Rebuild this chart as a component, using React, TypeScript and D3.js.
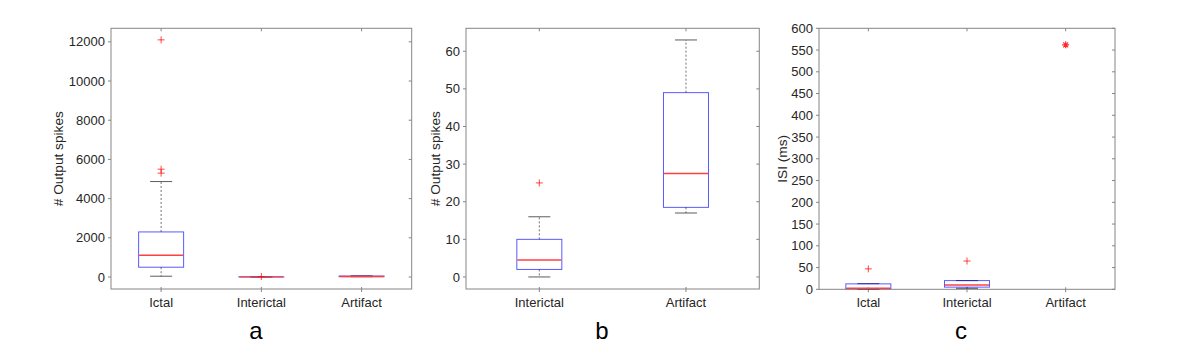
import React, { useEffect, useRef } from 'react';
import * as d3 from 'd3';

// box stats: [lower whisker, q1, median, q3, upper whisker]
const spikeCategoriesA = ['Ictal', 'Interictal', 'Artifact'];
const ictalSpikes = [40, 500, 1110, 2300, 4870];
const ictalSpikeOutliers = [5300, 5500, 12100];
const interictalSpikes = [0, 2, 4.5, 10, 16];
const interictalSpikeOutliers = [25];
const artifactSpikes = [17, 18.5, 27.5, 49, 63];
const artifactSpikeOutliers: number[] = [];

const spikeCategoriesB = ['Interictal', 'Artifact'];

const isiCategories = ['Ictal', 'Interictal', 'Artifact'];
const ictalIsi = [0.5, 1.5, 2.5, 12.5, 13];
const ictalIsiOutliers = [47];
const interictalIsi = [2.3, 5, 10, 20, 20];
const interictalIsiOutliers = [65];
const artifactIsi = [562, 562, 562, 562, 562];
const artifactIsiOutliers: number[] = [];

const ticksA = [0, 2000, 4000, 6000, 8000, 10000, 12000];
const ticksB = [0, 10, 20, 30, 40, 50, 60];
const ticksC = d3.range(0, 601, 50);

const FONT = '"Liberation Sans", Arial, Helvetica, sans-serif';

type Group = { stats: number[]; outliers: number[]; star?: boolean };

function drawPanel(svg: any, opt: any) {
  const { left, right, top, bottom, domain, ticks, cats, groups, ylabel, ylabelX, letter, letterX } = opt;
  const x = d3.scaleLinear().domain([0.5, cats.length + 0.5]).range([left, right]);
  const y = d3.scaleLinear().domain(domain).range([bottom, top]);
  const g = svg.append('g');
  const axisColor = '#858585';
  const textColor = '#262626';

  // frame
  g.append('rect')
    .attr('x', left).attr('y', top)
    .attr('width', right - left).attr('height', bottom - top)
    .attr('fill', 'none').attr('stroke', axisColor).attr('stroke-width', 1);

  // y ticks
  ticks.forEach((t: number) => {
    const yy = y(t);
    g.append('line').attr('x1', left - 3).attr('x2', left).attr('y1', yy).attr('y2', yy)
      .attr('stroke', axisColor);
    g.append('line').attr('x1', right - 3).attr('x2', right).attr('y1', yy).attr('y2', yy)
      .attr('stroke', axisColor);
    g.append('text').attr('x', left - 6).attr('y', yy).attr('dy', '0.35em')
      .attr('text-anchor', 'end').attr('font-size', 13).attr('fill', textColor)
      .attr('font-family', FONT).text(t);
  });

  // x ticks
  cats.forEach((c: string, i: number) => {
    const xx = x(i + 1);
    g.append('line').attr('x1', xx).attr('x2', xx).attr('y1', bottom - 2).attr('y2', bottom + 3)
      .attr('stroke', axisColor);
    g.append('line').attr('x1', xx).attr('x2', xx).attr('y1', top).attr('y2', top + 3)
      .attr('stroke', axisColor);
    g.append('text').attr('x', xx).attr('y', 307)
      .attr('text-anchor', 'middle').attr('font-size', 13).attr('fill', textColor)
      .attr('font-family', FONT).text(c);
  });

  // boxes
  const boxW = 45;
  const capW = 22;
  groups.forEach((gr: Group, i: number) => {
    const xx = x(i + 1);
    const [lo, q1, med, q3, hi] = gr.stats;
    const bg = g.append('g');
    if (gr.star) {
      // single value: MATLAB shows it as a star-like marker only
      const yy = y(med);
      const r = 3.5;
      const d = d3.range(4).map((k) => {
        const a = (k * Math.PI) / 4;
        return `M${xx - r * Math.cos(a)},${yy - r * Math.sin(a)}L${xx + r * Math.cos(a)},${yy + r * Math.sin(a)}`;
      }).join('');
      bg.append('path').attr('d', d).attr('stroke', '#ff0000').attr('stroke-width', 1.1)
        .attr('stroke-opacity', 0.85).attr('fill', 'none');
      return;
    }
    // whiskers
    bg.append('line').attr('x1', xx).attr('x2', xx).attr('y1', y(q3)).attr('y2', y(hi))
      .attr('stroke', '#333').attr('stroke-width', 0.7).attr('stroke-dasharray', '2,2');
    bg.append('line').attr('x1', xx).attr('x2', xx).attr('y1', y(q1)).attr('y2', y(lo))
      .attr('stroke', '#333').attr('stroke-width', 0.7).attr('stroke-dasharray', '2,2');
    [lo, hi].forEach((v) => {
      bg.append('line').attr('x1', xx - capW / 2).attr('x2', xx + capW / 2)
        .attr('y1', y(v)).attr('y2', y(v)).attr('stroke', '#333').attr('stroke-width', 0.8);
    });
    bg.append('rect').attr('x', xx - boxW / 2).attr('y', y(q3))
      .attr('width', boxW).attr('height', Math.max(0, y(q1) - y(q3)))
      .attr('fill', 'none').attr('stroke', '#0000ff').attr('stroke-width', 1).attr('stroke-opacity', 0.65);
    bg.append('line').attr('x1', xx - boxW / 2 + 0.5).attr('x2', xx + boxW / 2 - 0.5)
      .attr('y1', y(med)).attr('y2', y(med)).attr('stroke', '#ff4040').attr('stroke-width', 1.4);
    gr.outliers.forEach((v) => {
      const yy = y(v);
      bg.append('path').attr('d', `M${xx - 3.5},${yy}H${xx + 3.5}M${xx},${yy - 3.5}V${yy + 3.5}`)
        .attr('stroke', '#ff0000').attr('stroke-width', 0.9).attr('fill', 'none').attr('stroke-opacity', 0.8);
    });
  });

  // y label
  g.append('text')
    .attr('transform', `translate(${ylabelX},${(top + bottom) / 2}) rotate(-90)`)
    .attr('text-anchor', 'middle').attr('dy', '0.35em')
    .attr('font-size', 13.7).attr('fill', textColor).attr('font-family', FONT)
    .text(ylabel);

  // panel letter
  g.append('text').attr('x', letterX).attr('y', 339)
    .attr('text-anchor', 'middle').attr('font-size', 24).attr('fill', '#000')
    .attr('font-family', FONT).text(letter);
}

export default function App() {
  const ref = useRef<SVGSVGElement>(null);

  useEffect(() => {
    const svg = d3.select(ref.current);
    svg.selectAll('*').remove();

    drawPanel(svg, {
      left: 111, right: 411.7, top: 28.3, bottom: 289,
      domain: [-612, 12690], ticks: ticksA, cats: spikeCategoriesA,
      groups: [
        { stats: ictalSpikes, outliers: ictalSpikeOutliers },
        { stats: interictalSpikes, outliers: interictalSpikeOutliers },
        { stats: artifactSpikes, outliers: artifactSpikeOutliers },
      ],
      ylabel: '# Output spikes', ylabelX: 58, letter: 'a', letterX: 256,
    });

    drawPanel(svg, {
      left: 466, right: 759.3, top: 28.3, bottom: 289,
      domain: [-3.2, 66.1], ticks: ticksB, cats: spikeCategoriesB,
      groups: [
        { stats: interictalSpikes, outliers: interictalSpikeOutliers },
        { stats: artifactSpikes, outliers: artifactSpikeOutliers },
      ],
      ylabel: '# Output spikes', ylabelX: 435, letter: 'b', letterX: 602,
    });

    drawPanel(svg, {
      left: 819, right: 1115, top: 28.3, bottom: 289.3,
      domain: [0, 600], ticks: ticksC, cats: isiCategories,
      groups: [
        { stats: ictalIsi, outliers: ictalIsiOutliers },
        { stats: interictalIsi, outliers: interictalIsiOutliers },
        { stats: artifactIsi, outliers: artifactIsiOutliers, star: true },
      ],
      ylabel: 'ISI (ms)', ylabelX: 782, letter: 'c', letterX: 961,
    });
  }, []);

  return (
    <svg
      ref={ref}
      width={1196}
      height={357}
      style={{ position: 'absolute', left: 0, top: 0, background: '#fff', display: 'block' }}
    />
  );
}
